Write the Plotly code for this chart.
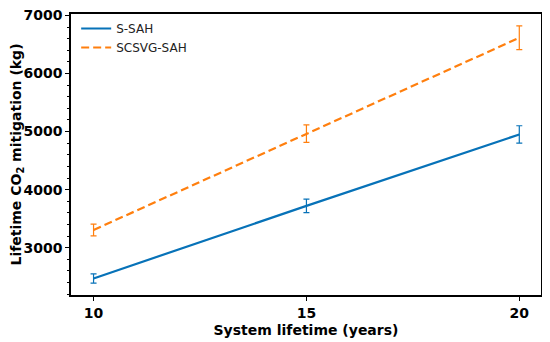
import plotly.graph_objects as go

years = [10, 15, 20]
s_sah = [2470, 3720, 4950]
s_sah_err = [80, 115, 150]
scsvg_sah = [3305, 4965, 6615]
scsvg_sah_err = [100, 150, 205]
y_ticks = [3000, 4000, 5000, 6000, 7000]
x_ticks = [10, 15, 20]

blue = "#0772b8"
orange = "#ff7f0e"

fig = go.Figure()
fig.add_trace(go.Scatter(
    x=years, y=s_sah, mode="lines", name="S-SAH",
    line=dict(color=blue, width=2.2),
    error_y=dict(type="data", array=s_sah_err, visible=True, color=blue, thickness=1.2, width=3),
))
fig.add_trace(go.Scatter(
    x=years, y=scsvg_sah, mode="lines", name="SCSVG-SAH",
    line=dict(color=orange, width=2.2, dash="8px,4px"),
    error_y=dict(type="data", array=scsvg_sah_err, visible=True, color=orange, thickness=1.2, width=3),
))

font_family = "DejaVu Sans"
fig.update_layout(
    width=542, height=334,
    margin=dict(l=63, r=9, t=6, b=47),
    paper_bgcolor="white", plot_bgcolor="white",
    font=dict(family=font_family, color="black"),
    showlegend=True,
    legend=dict(x=0.011, y=1.0, xanchor="left", yanchor="top",
                font=dict(size=12, family=font_family, color="#222"),
                bgcolor="rgba(255,255,255,0.8)", borderwidth=0,
                tracegroupgap=0, itemwidth=30),
    xaxis=dict(
        range=[9.47, 20.51], tickvals=x_ticks, ticktext=[f"<b>{t}</b>" for t in x_ticks],
        showgrid=False, zeroline=False, showline=True, linecolor="black", linewidth=1.5,
        mirror=True, ticks="outside", ticklen=4, tickwidth=1.2, tickcolor="black",
        tickfont=dict(size=14, family=font_family), automargin=False,
        ticklabeloverflow="allow",
        title=dict(text="<b>System lifetime (years)</b>", font=dict(size=14, family=font_family), standoff=6),
    ),
    yaxis=dict(
        range=[2185, 7025], tickvals=y_ticks, ticktext=[f"<b>{t}</b>" for t in y_ticks],
        showgrid=False, zeroline=False, showline=True, linecolor="black", linewidth=1.5,
        mirror=True, ticks="outside", ticklen=4, tickwidth=1.2, tickcolor="black",
        tickfont=dict(size=14, family=font_family), automargin=False,
        ticklabeloverflow="allow",
        minor=dict(dtick=200, tick0=0, ticks="outside", ticklen=2, tickwidth=0.8, tickcolor="black", showgrid=False),
        title=dict(text="<b>Lifetime CO<sub>2</sub> mitigation (kg)</b>", font=dict(size=14, family=font_family), standoff=4),
    ),
)

fig.write_html("out.html")
